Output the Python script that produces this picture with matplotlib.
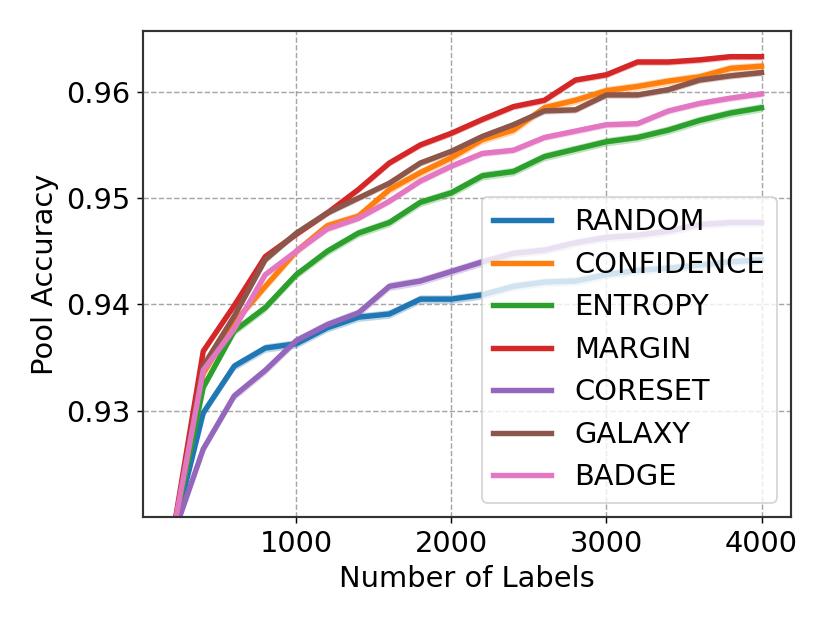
import numpy as np
import matplotlib
matplotlib.use('Agg')
import matplotlib.pyplot as plt

labels = np.arange(200, 4001, 200)

# mean pool accuracy per method
random_acc = [0.918, 0.9298, 0.9342, 0.9359, 0.9363, 0.9378, 0.9388, 0.9391, 0.9405, 0.9405,
              0.9409, 0.9417, 0.9421, 0.9422, 0.9428, 0.9432, 0.9434, 0.9437, 0.9440, 0.9442]
confidence_acc = [0.918, 0.9335, 0.9383, 0.9417, 0.9450, 0.9474, 0.9483, 0.9508, 0.9524, 0.9538,
                  0.9555, 0.9564, 0.9585, 0.9592, 0.9601, 0.9605, 0.9610, 0.9614, 0.9622, 0.9624]
entropy_acc = [0.918, 0.9322, 0.9375, 0.9397, 0.9428, 0.9450, 0.9467, 0.9477, 0.9496, 0.9505,
               0.9521, 0.9525, 0.9539, 0.9546, 0.9553, 0.9557, 0.9564, 0.9573, 0.9580, 0.9585]
margin_acc = [0.918, 0.9356, 0.9399, 0.9445, 0.9466, 0.9486, 0.9508, 0.9533, 0.9550, 0.9561,
              0.9574, 0.9586, 0.9592, 0.9611, 0.9616, 0.9628, 0.9628, 0.9630, 0.9633, 0.9633]
coreset_acc = [0.918, 0.9264, 0.9314, 0.9338, 0.9366, 0.9381, 0.9392, 0.9417, 0.9422, 0.9431,
               0.9440, 0.9448, 0.9451, 0.9458, 0.9463, 0.9465, 0.9469, 0.9475, 0.9477, 0.9477]
galaxy_acc = [0.918, 0.9342, 0.9389, 0.9442, 0.9467, 0.9486, 0.9500, 0.9514, 0.9533, 0.9544,
              0.9558, 0.9569, 0.9582, 0.9583, 0.9597, 0.9597, 0.9602, 0.9611, 0.9615, 0.9618]
badge_acc = [0.918, 0.9338, 0.9377, 0.9428, 0.9450, 0.9471, 0.9481, 0.9497, 0.9516, 0.9530,
             0.9542, 0.9545, 0.9557, 0.9563, 0.9569, 0.9570, 0.9582, 0.9589, 0.9594, 0.9598]

# standard error (half width of shaded band)
random_err = 0.0004
confidence_err = 0.0004
entropy_err = 0.0004
margin_err = 0.0003
coreset_err = 0.0004
galaxy_err = 0.0003
badge_err = 0.0003

methods = ['RANDOM', 'CONFIDENCE', 'ENTROPY', 'MARGIN', 'CORESET', 'GALAXY', 'BADGE']
means = [random_acc, confidence_acc, entropy_acc, margin_acc, coreset_acc, galaxy_acc, badge_acc]
errs = [random_err, confidence_err, entropy_err, margin_err, coreset_err, galaxy_err, badge_err]
colors = ['#1f77b4', '#ff7f0e', '#2ca02c', '#d62728', '#9467bd', '#8c564b', '#e377c2']

fig = plt.figure(figsize=(830 / 130, 623 / 130), dpi=130)
ax = fig.add_axes([0.172, 0.170, 0.781, 0.780])

for name, m, e, c in zip(methods, means, errs, colors):
    m = np.array(m)
    ax.plot(labels, m, color=c, linewidth=3, label=name)
    ax.fill_between(labels, m - e, m + e, color=c, alpha=0.3, linewidth=0)

ax.set_ylim(0.92, 0.9657)
ax.set_yticks([0.93, 0.94, 0.95, 0.96])
ax.set_xticks([1000, 2000, 3000, 4000])
ax.grid(True, linestyle='--', color='gray', alpha=0.7)
ax.tick_params(labelsize=16)
for s in ax.spines.values():
    s.set_color('#333333')
    s.set_linewidth(1.2)
ax.set_xlabel('Number of Labels', fontsize=16)
ax.set_ylabel('Pool Accuracy', fontsize=16)
ax.legend(loc='lower right', fontsize=16)

fig.savefig('out.png', dpi=130)
